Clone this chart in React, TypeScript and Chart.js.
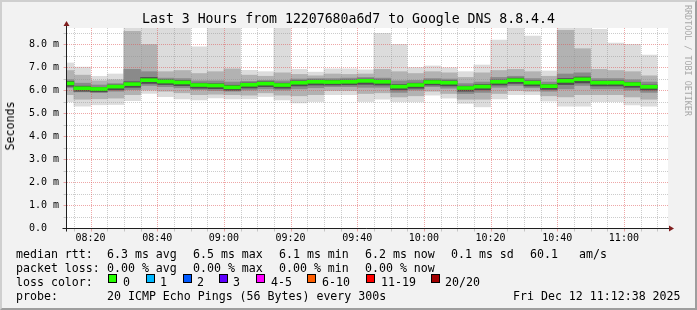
import React, { useEffect, useRef } from 'react';
import { Chart, registerables } from 'chart.js';

Chart.register(...registerables);

// ---------- data ----------
const windowStart = '08:12:38';
const windowEnd = '11:12:38';

const intervalStarts = [
  '08:10', '08:15', '08:20', '08:25', '08:30', '08:35', '08:40', '08:45', '08:50', '08:55',
  '09:00', '09:05', '09:10', '09:15', '09:20', '09:25', '09:30', '09:35', '09:40', '09:45',
  '09:50', '09:55', '10:00', '10:05', '10:10', '10:15', '10:20', '10:25', '10:30', '10:35',
  '10:40', '10:45', '10:50', '10:55', '11:00', '11:05',
];

// milliseconds
const rttMax = [7.18, 7.0, 6.6, 6.7, 8.7, 8.7, 8.7, 8.7, 7.88, 8.7, 8.7, 6.86, 6.8, 8.7, 6.9, 6.78, 6.92, 6.92, 6.88, 8.47, 7.99, 6.98, 7.05, 6.97, 6.8, 7.09, 8.17, 8.7, 8.35, 6.83, 8.7, 8.7, 8.64, 8.04, 7.99, 7.52];
const rttP90 = [6.85, 6.65, 6.4, 6.45, 8.55, 7.98, 6.8, 6.85, 6.72, 6.8, 6.92, 6.65, 6.6, 6.75, 6.68, 6.62, 6.7, 6.68, 6.7, 6.9, 6.8, 6.72, 6.8, 6.75, 6.55, 6.75, 6.85, 6.9, 6.8, 6.6, 8.6, 7.8, 6.9, 6.85, 6.8, 6.62];
const rttP70 = [6.45, 6.3, 6.22, 6.28, 6.9, 6.8, 6.52, 6.5, 6.4, 6.4, 6.35, 6.38, 6.42, 6.4, 6.48, 6.5, 6.5, 6.52, 6.55, 6.52, 6.4, 6.42, 6.5, 6.48, 6.28, 6.35, 6.55, 6.6, 6.5, 6.35, 6.7, 6.75, 6.5, 6.5, 6.45, 6.35];
const rttP60 = [6.38, 6.17, 6.12, 6.22, 6.36, 6.55, 6.45, 6.41, 6.3, 6.28, 6.21, 6.31, 6.36, 6.3, 6.4, 6.44, 6.43, 6.44, 6.48, 6.44, 6.24, 6.3, 6.43, 6.4, 6.17, 6.24, 6.44, 6.52, 6.4, 6.25, 6.5, 6.57, 6.4, 6.4, 6.34, 6.22];
const rttMedian = [6.29, 6.08, 6.05, 6.15, 6.26, 6.43, 6.37, 6.33, 6.22, 6.2, 6.12, 6.23, 6.28, 6.22, 6.32, 6.36, 6.35, 6.36, 6.4, 6.36, 6.15, 6.22, 6.35, 6.32, 6.09, 6.15, 6.36, 6.43, 6.32, 6.17, 6.4, 6.47, 6.32, 6.32, 6.26, 6.14];
const rttP40 = [6.16, 5.95, 5.92, 6.01, 6.12, 6.29, 6.24, 6.19, 6.08, 6.06, 5.99, 6.09, 6.15, 6.08, 6.18, 6.22, 6.22, 6.23, 6.25, 6.22, 6.01, 6.08, 6.22, 6.18, 5.95, 6.01, 6.22, 6.29, 6.18, 6.03, 6.24, 6.31, 6.18, 6.18, 6.12, 6.0];
const rttP30 = [6.1, 5.92, 5.9, 5.95, 6.02, 6.2, 6.15, 6.1, 6.02, 5.98, 5.95, 6.0, 6.05, 6.0, 6.05, 6.1, 6.15, 6.15, 6.12, 6.12, 5.9, 6.0, 6.15, 6.08, 5.85, 5.9, 6.12, 6.2, 6.1, 5.95, 6.05, 6.2, 6.05, 6.05, 6.0, 5.9];
const rttP10 = [5.8, 5.6, 5.62, 5.65, 5.8, 6.0, 5.95, 5.88, 5.8, 5.82, 5.8, 5.78, 5.88, 5.78, 5.75, 5.8, 5.98, 5.98, 5.85, 5.88, 5.7, 5.75, 5.95, 5.85, 5.6, 5.6, 5.85, 5.98, 5.95, 5.75, 5.7, 5.8, 5.8, 5.8, 5.7, 5.6];
const rttMin = [5.49, 5.3, 5.36, 5.37, 5.54, 5.85, 5.71, 5.62, 5.57, 5.66, 5.62, 5.62, 5.72, 5.57, 5.44, 5.5, 5.8, 5.8, 5.5, 5.6, 5.5, 5.49, 5.78, 5.65, 5.42, 5.27, 5.61, 5.8, 5.8, 5.52, 5.3, 5.3, 5.49, 5.49, 5.35, 5.3];

const yMax = 8.7;
const yMajorTicks = [0, 1, 2, 3, 4, 5, 6, 7, 8];
const yTickLabels = ['0.0  ', '1.0 m', '2.0 m', '3.0 m', '4.0 m', '5.0 m', '6.0 m', '7.0 m', '8.0 m'];
const xTickLabels = ['08:20', '08:40', '09:00', '09:20', '09:40', '10:00', '10:20', '10:40', '11:00'];

const titleText = 'Last 3 Hours from 12207680a6d7 to Google DNS 8.8.4.4';
const rttStats = ['6.3 ms avg', '6.5 ms max', '6.1 ms min', '6.2 ms now', '0.1 ms sd', '60.1', 'am/s'];
const lossStats = ['0.00 % avg', '0.00 % max', '0.00 % min', '0.00 % now'];
const lossLabels = ['0', '1', '2', '3', '4-5', '6-10', '11-19', '20/20'];
const lossColors = ['#26ff00', '#00b8ff', '#0059ff', '#5e00ff', '#ff00ff', '#ff5e00', '#ff0000', '#a10000'];
const probeText = '20 ICMP Echo Pings (56 Bytes) every 300s';
const dateText = 'Fri Dec 12 11:12:38 2025';

// ---------- helpers ----------
const toMin = (s: string) => {
  const p = s.split(':').map(Number);
  return p[0] * 60 + p[1] + (p[2] || 0) / 60;
};
const xMin = toMin(windowStart);
const xMax = toMin(windowEnd);
const fmt = (m: number) => {
  const h = Math.floor(m / 60);
  const mm = Math.round(m % 60);
  return String(h).padStart(2, '0') + ':' + String(mm).padStart(2, '0');
};

const xGrid: number[] = [];
for (let v = Math.ceil(xMin / 5) * 5; v <= xMax; v += 5) xGrid.push(v);
const yGrid: number[] = [];
for (let v = 0; v < yMax; v += 0.5) yGrid.push(Math.round(v * 10) / 10);

const mid = (t: string) => toMin(t) + 2.5;

function band(lo: number[], hi: number[], color: string, order: number, label: string) {
  return {
    type: 'bar' as const,
    label,
    order,
    data: intervalStarts.map((t, i) => ({ x: mid(t), y: [lo[i], hi[i]] })),
    backgroundColor: color,
    borderWidth: 0,
    barPercentage: 1,
    categoryPercentage: 1,
    grouped: false,
  };
}

const MINOR = 'rgba(143,143,143,0.45)';
const MAJOR = 'rgba(222,79,79,0.5)';

function drawGrid(chart: any) {
  const { ctx, chartArea: a, scales } = chart;
  const x = scales.x, y = scales.y;
  ctx.save();
  ctx.lineWidth = 1;
  ctx.setLineDash([1, 1]);
  for (const v of yGrid) {
    if (v === 0) continue;
    const py = Math.round(y.getPixelForValue(v)) + 0.5;
    ctx.strokeStyle = v % 1 === 0 ? MAJOR : MINOR;
    ctx.beginPath();
    ctx.moveTo(a.left + 1, py);
    ctx.lineTo(a.right + 2, py);
    ctx.stroke();
  }
  for (const v of xGrid) {
    const px = Math.round(x.getPixelForValue(v)) + 0.5;
    ctx.strokeStyle = v % 20 === 0 ? MAJOR : MINOR;
    ctx.beginPath();
    ctx.moveTo(px, a.top);
    ctx.lineTo(px, a.bottom);
    ctx.stroke();
  }
  ctx.restore();
}

function drawAxes(chart: any) {
  const { ctx, chartArea: a, scales } = chart;
  const x = scales.x, y = scales.y;
  const ax = Math.round(a.left) + 0.5;
  const ay = Math.round(a.bottom) + 0.5;
  ctx.save();
  ctx.setLineDash([]);
  ctx.lineWidth = 1;
  for (const v of xGrid) {
    const px = Math.round(x.getPixelForValue(v)) + 0.5;
    ctx.strokeStyle = v % 20 === 0 ? MAJOR : MINOR;
    ctx.beginPath();
    ctx.moveTo(px, ay);
    ctx.lineTo(px, ay + 3);
    ctx.stroke();
  }
  for (const v of yGrid) {
    const py = Math.round(y.getPixelForValue(v)) + 0.5;
    ctx.strokeStyle = v % 1 === 0 ? MAJOR : MINOR;
    ctx.beginPath();
    ctx.moveTo(ax - 3, py);
    ctx.lineTo(ax, py);
    ctx.stroke();
  }
  ctx.strokeStyle = '#1f1f1f';
  ctx.beginPath();
  ctx.moveTo(ax - 4, ay);
  ctx.lineTo(a.right + 4, ay);
  ctx.moveTo(ax, ay + 3);
  ctx.lineTo(ax, a.top - 4);
  ctx.stroke();
  ctx.fillStyle = '#801f1f';
  ctx.beginPath();
  ctx.moveTo(ax, a.top - 7);
  ctx.lineTo(ax - 3, a.top - 2);
  ctx.lineTo(ax + 3, a.top - 2);
  ctx.closePath();
  ctx.fill();
  ctx.beginPath();
  ctx.moveTo(a.right + 8, ay);
  ctx.lineTo(a.right + 3, ay - 3);
  ctx.lineTo(a.right + 3, ay + 3);
  ctx.closePath();
  ctx.fill();
  ctx.restore();
}

const rrdPlugin = {
  id: 'rrdLook',
  beforeDraw(chart: any) {
    const { ctx, chartArea: a } = chart;
    ctx.save();
    ctx.fillStyle = '#ffffff';
    ctx.fillRect(a.left, a.top, a.right - a.left + 2, a.bottom - a.top);
    ctx.restore();
  },
  beforeDatasetDraw(chart: any, args: any) {
    if (args.index === 0) drawGrid(chart);
  },
  afterDraw(chart: any) {
    drawAxes(chart);
  },
};

const MONO = "'DejaVu Sans Mono', monospace";

function T({ x, top, children, size = 11.6 }: { x: number; top: number; children: React.ReactNode; size?: number }) {
  return (
    <div
      style={{
        position: 'absolute',
        left: x,
        top,
        fontFamily: MONO,
        fontSize: size,
        lineHeight: '14px',
        whiteSpace: 'pre',
        color: '#000',
      }}
    >
      {children}
    </div>
  );
}

export default function App() {
  const ref = useRef<HTMLCanvasElement>(null);

  useEffect(() => {
    document.body.style.margin = '0';
    const greenLo = rttMedian.map((m) => m - 0.065);
    const greenHi = rttMedian.map((m) => m + 0.065);
    const chart = new Chart(ref.current as HTMLCanvasElement, {
      type: 'bar',
      data: {
        datasets: [
          band(greenLo, greenHi, '#26ff00', 0, 'median'),
          band(rttP40, rttP60, '#4e4e4e', 1, 'core'),
          band(rttP30, rttP70, '#8a8a8a', 2, 'inner'),
          band(rttP10, rttP90, '#b2b2b2', 3, 'middle'),
          band(rttMin, rttMax, '#dcdcdc', 4, 'outer'),
        ] as any,
      },
      options: {
        responsive: false,
        animation: false,
        devicePixelRatio: 1,
        layout: { padding: { left: 0, top: 28, right: 31, bottom: 0 } },
        plugins: { legend: { display: false }, tooltip: { enabled: false }, title: { display: false } },
        scales: {
          x: {
            type: 'linear',
            offset: false,
            min: xMin,
            max: xMax,
            grid: { display: false, drawTicks: false, offset: false },
            border: { display: false },
            afterBuildTicks: (s: any) => {
              s.ticks = xGrid.map((v) => ({ value: v }));
            },
            afterFit: (s: any) => {
              s.height = 82;
            },
            ticks: {
              autoSkip: false,
              maxRotation: 0,
              minRotation: 0,
              padding: 4,
              color: '#000',
              font: { family: MONO, size: 10 },
              callback: (v: any) => {
                const lbl = fmt(Number(v));
                return Number(v) % 20 === 0 && xTickLabels.includes(lbl) ? lbl : '';
              },
            },
          },
          y: {
            type: 'linear',
            min: 0,
            max: yMax,
            grid: { display: false, drawTicks: false },
            border: { display: false },
            afterBuildTicks: (s: any) => {
              s.ticks = yGrid.map((v) => ({ value: v }));
            },
            afterFit: (s: any) => {
              s.width = 66;
            },
            ticks: {
              autoSkip: false,
              padding: 7,
              color: '#000',
              font: { family: MONO, size: 10 },
              callback: (v: any) => {
                const idx = yMajorTicks.indexOf(Number(v));
                return idx >= 0 ? yTickLabels[idx] : '';
              },
            },
          },
        },
      } as any,
      plugins: [rrdPlugin],
    });
    return () => chart.destroy();
  }, []);

  const rttX = [107, 193, 279, 365, 451, 530, 579];
  const lossX = [107, 193, 279, 365];
  const swX = [108, 146, 183, 219, 256, 307, 366, 431];
  const lblX = [123, 160, 197, 233, 271, 322, 381, 445];

  return (
    <div
      style={{
        position: 'fixed',
        left: 0,
        top: 0,
        width: 697,
        height: 310,
        background: '#f2f2f2',
        overflow: 'hidden',
      }}
    >
      <div
        style={{
          position: 'absolute',
          inset: 0,
          boxSizing: 'border-box',
          borderTop: '2px solid #cfcfcf',
          borderLeft: '2px solid #cfcfcf',
          borderRight: '2px solid #9e9e9e',
          borderBottom: '2px solid #9e9e9e',
        }}
      />
      <canvas
        ref={ref}
        width={697}
        height={310}
        style={{ position: 'absolute', left: 0, top: 0, width: 697, height: 310 }}
      />
      <div
        style={{
          position: 'absolute',
          left: 0,
          width: 697,
          top: 11,
          textAlign: 'center',
          fontFamily: MONO,
          fontSize: 13.2,
          lineHeight: '16px',
          whiteSpace: 'pre',
          color: '#000',
        }}
      >
        {titleText}
      </div>
      <div
        style={{
          position: 'absolute',
          left: 10,
          top: 126,
          transform: 'translate(-50%, -50%) rotate(-90deg)',
          fontFamily: MONO,
          fontSize: 11.6,
          lineHeight: '14px',
          whiteSpace: 'pre',
          color: '#000',
        }}
      >
        Seconds
      </div>
      <div
        style={{
          position: 'absolute',
          left: 683,
          top: 5,
          writingMode: 'vertical-rl',
          fontFamily: MONO,
          fontSize: 8.4,
          lineHeight: '10px',
          whiteSpace: 'pre',
          color: '#a8a8a8',
        }}
      >
        RRDTOOL / TOBI OETIKER
      </div>

      <T x={16} top={247}>median rtt:</T>
      {rttStats.map((s, i) => (
        <T key={'r' + i} x={rttX[i]} top={247}>{s}</T>
      ))}
      <T x={16} top={261}>packet loss:</T>
      {lossStats.map((s, i) => (
        <T key={'l' + i} x={lossX[i]} top={261}>{s}</T>
      ))}
      <T x={16} top={274.5}>loss color:</T>
      {lossLabels.map((s, i) => (
        <React.Fragment key={'c' + i}>
          <div
            style={{
              position: 'absolute',
              left: swX[i],
              top: 274,
              width: 7,
              height: 7,
              boxSizing: 'content-box',
              background: lossColors[i],
              border: '1px solid #000',
            }}
          />
          <T x={lblX[i]} top={274.5}>{s}</T>
        </React.Fragment>
      ))}
      <T x={16} top={288.5}>probe:</T>
      <T x={107} top={288.5}>{probeText}</T>
      <T x={513} top={288.5}>{dateText}</T>
    </div>
  );
}
